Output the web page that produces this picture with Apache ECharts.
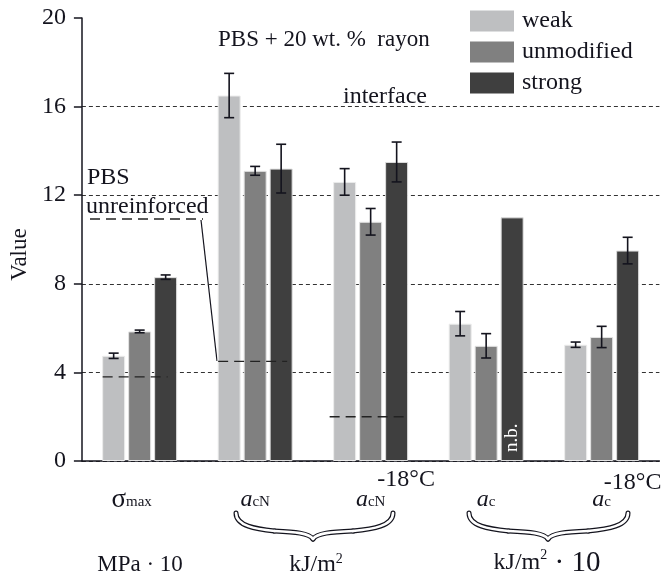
<!DOCTYPE html>
<html>
<head>
<meta charset="utf-8">
<script src="https://cdn.jsdelivr.net/npm/echarts@6/dist/echarts.min.js"></script>
<style>
    html, body { margin: 0; padding: 0; background: #fff; }
    #main { width: 664px; height: 577px; }
</style>
</head>
<body>
<div id="main"></div>
<script>
// categories on the x axis
var symbols = ['σ', 'a', 'a', 'a', 'a'];
var subs = ['max', 'cN', 'cN', 'c', 'c'];
var temps = ['', '', '-18°C', '', '-18°C'];
var categories = ['σmax', 'acN', 'acN -18°C', 'ac', 'ac -18°C'];

// bar values
var weak = [4.75, 16.5, 12.6, 6.2, 5.25];
var unmodified = [5.85, 13.1, 10.8, 5.2, 5.6];
var strong = [8.3, 13.2, 13.5, 11.0, 9.5];

// error (+/-)
var weakErr = [0.12, 1.0, 0.6, 0.55, 0.12];
var unmodErr = [0.06, 0.2, 0.6, 0.55, 0.48];
var strongErr = [0.1, 1.1, 0.9, null, 0.6];
var notDetermined = [false, false, false, true, false];

// PBS unreinforced level
var pbsRef = [3.8, 4.5, 2.0, null, null];

var yTicks = [0, 4, 8, 12, 16, 20];

var FONT = "'Liberation Serif', 'Times New Roman', serif";
var INK = '#14141e';
var BAR_W = 23;
var BAR_SPACE = 3;
var REF_SPAN = [[-37, 28], [-37, 32], [-41, 39]];

var errData = [];
[weakErr, unmodErr, strongErr].forEach(function (errs, s) {
    var vals = [weak, unmodified, strong][s];
    errs.forEach(function (e, i) {
        if (e != null) {
            errData.push([i, vals[i] - e, vals[i] + e, s]);
        }
    });
});

var refData = [];
pbsRef.forEach(function (v, i) {
    if (v != null) refData.push([i, v]);
});

function renderErr(params, api) {
    var xi = api.value(0);
    var lo = api.coord([xi, api.value(1)]);
    var hi = api.coord([xi, api.value(2)]);
    var x = lo[0] + (api.value(3) - 1) * (BAR_W + BAR_SPACE);
    var st = { stroke: INK, lineWidth: 1.6 };
    return {
        type: 'group',
        children: [
            { type: 'line', shape: { x1: x, y1: lo[1], x2: x, y2: hi[1] }, style: st },
            { type: 'line', shape: { x1: x - 5, y1: lo[1], x2: x + 5, y2: lo[1] }, style: st },
            { type: 'line', shape: { x1: x - 5, y1: hi[1], x2: x + 5, y2: hi[1] }, style: st }
        ]
    };
}

function renderRef(params, api) {
    var xi = api.value(0);
    var p = api.coord([xi, api.value(1)]);
    var span = REF_SPAN[xi];
    return {
        type: 'line',
        shape: { x1: p[0] + span[0], y1: p[1], x2: p[0] + span[1], y2: p[1] },
        style: { stroke: '#222', lineWidth: 1.4, lineDash: [10, 6] }
    };
}

function xLabel(v, i) {
    var line1 = temps[i] ? '{t' + i + '|' + temps[i] + '}' : '{e| }';
    if (symbols[i] === 'a') {
        return line1 + '\n{a|a}{sub|' + subs[i] + '}';
    }
    return line1 + '\n{s|' + symbols[i] + '}{sm|' + subs[i] + '}';
}

// curly brace as four cubic segments
function braceSegs(x0, xm, x1, y0) {
    var ml = (x0 + xm) / 2, mr = (xm + x1) / 2;
    return [
        [x0, y0, x0, y0 + 13, x0 + 20, y0 + 16, ml, y0 + 18],
        [ml, y0 + 18, xm - 18, y0 + 19, xm - 4, y0 + 20, xm, y0 + 26],
        [xm, y0 + 26, xm + 4, y0 + 20, xm + 18, y0 + 19, mr, y0 + 18],
        [mr, y0 + 18, x1 - 20, y0 + 16, x1, y0 + 13, x1, y0]
    ];
}

var braces = [[236, 313, 393], [469, 548, 628]];
var braceEls = [];
[[INK, 5], ['#fff', 2.6]].forEach(function (pen) {
    braces.forEach(function (b) {
        braceSegs(b[0], b[1], b[2], 513).forEach(function (s) {
            braceEls.push({
                type: 'bezierCurve',
                shape: { x1: s[0], y1: s[1], cpx1: s[2], cpy1: s[3], cpx2: s[4], cpy2: s[5], x2: s[6], y2: s[7] },
                style: { fill: null, stroke: pen[0], lineWidth: pen[1], lineCap: 'round' }
            });
        });
    });
});

function txt(text, x, y, size, extra) {
    var el = {
        type: 'text', x: x, y: y,
        style: { text: text, fontSize: size, fontFamily: FONT, fill: INK, verticalAlign: 'middle' }
    };
    if (extra) {
        for (var k in extra) el.style[k] = extra[k];
    }
    return el;
}

var chart = echarts.init(document.getElementById('main'));

var option = {
    animation: false,
    textStyle: { fontFamily: FONT, color: INK },
    title: {
        text: 'PBS + 20 wt. %  rayon',
        left: 218, top: 28, padding: 0,
        textStyle: { fontFamily: FONT, fontSize: 23, fontWeight: 'normal', color: INK }
    },
    legend: {
        orient: 'vertical',
        left: 470, top: 9, padding: 0,
        itemWidth: 44, itemHeight: 21, itemGap: 7,
        icon: 'rect',
        itemStyle: { borderWidth: 0 },
        textStyle: { fontFamily: FONT, fontSize: 24, color: INK, padding: [0, 0, 0, 3] },
        data: ['weak', 'unmodified', 'strong']
    },
    grid: { left: 80, right: 2, top: 18, bottom: 116 },
    xAxis: {
        type: 'category',
        data: categories,
        axisLine: { lineStyle: { color: INK, width: 1.5 } },
        axisTick: { alignWithLabel: true, length: 7, lineStyle: { color: INK, width: 1.5 } },
        axisLabel: {
            interval: 0, margin: 9, color: INK,
            formatter: xLabel,
            rich: {
                t2: { fontFamily: FONT, fontSize: 24, color: INK, lineHeight: 20, align: 'right', padding: [0, 0, 0, 71] },
                t4: { fontFamily: FONT, fontSize: 24, color: INK, lineHeight: 20, align: 'right', padding: [6, 0, 0, 62] },
                e: { fontSize: 10, lineHeight: 20 },
                s: { fontFamily: FONT, fontSize: 27, color: INK, lineHeight: 20, align: 'center' },
                sm: { fontFamily: FONT, fontSize: 15, color: INK, lineHeight: 20, align: 'center', verticalAlign: 'bottom', padding: [10, 16, 0, 0] },
                a: { fontFamily: FONT, fontSize: 24, fontStyle: 'italic', color: INK, lineHeight: 20, align: 'center' },
                sub: { fontFamily: FONT, fontSize: 15, color: INK, lineHeight: 20, align: 'center', verticalAlign: 'bottom', padding: [10, 0, 0, 0] }
            }
        }
    },
    yAxis: {
        type: 'value',
        min: yTicks[0], max: yTicks[yTicks.length - 1], interval: 4,
        name: 'Value',
        nameLocation: 'middle',
        nameGap: 48,
        nameRotate: 90,
        nameTextStyle: { fontFamily: FONT, fontSize: 23, color: INK, padding: [0, 30, 0, 0] },
        axisLine: { show: true, lineStyle: { color: INK, width: 1.5 } },
        axisTick: { show: true, length: 8, lineStyle: { color: INK, width: 1.5 } },
        axisLabel: { fontFamily: FONT, fontSize: 24, color: INK, margin: 16 },
        splitLine: { show: true, showMaxLine: false, lineStyle: { color: '#333', width: 1, type: [4, 3] } }
    },
    series: [{
        name: 'weak', type: 'bar', data: weak,
        barWidth: BAR_W, barGap: '13%',
        itemStyle: { color: '#bebfc1', borderColor: '#ececec', borderWidth: 1 }
    }, {
        name: 'unmodified', type: 'bar', data: unmodified,
        barWidth: BAR_W, barGap: '13%',
        itemStyle: { color: '#808080', borderColor: '#e4e4e4', borderWidth: 1 }
    }, {
        name: 'strong', type: 'bar',
        data: strong.map(function (v, i) {
            if (!notDetermined[i]) return v;
            return {
                value: v,
                label: {
                    show: true, formatter: 'n.b.', position: 'insideBottom', rotate: 90,
                    align: 'left', verticalAlign: 'middle', distance: 9,
                    color: '#fff', fontFamily: FONT, fontSize: 19
                }
            };
        }),
        barWidth: BAR_W, barGap: '13%',
        itemStyle: { color: '#3f3f3f', borderColor: '#dedede', borderWidth: 1 }
    }, {
        type: 'custom', name: 'err', data: errData, renderItem: renderErr,
        encode: { x: 0, y: [1, 2] }, z: 5, silent: true
    }, {
        type: 'custom', name: 'PBS unreinforced', data: refData, renderItem: renderRef,
        encode: { x: 0, y: 1 }, z: 5, silent: true
    }],
    graphic: [
        txt('interface', 343, 97, 24),
        txt('PBS', 87, 178, 24),
        txt('unreinforced', 86, 207, 24),
        { type: 'line', shape: { x1: 90, y1: 219, x2: 203, y2: 219 }, style: { stroke: '#222', lineWidth: 1.4, lineDash: [10, 6] } },
        { type: 'line', shape: { x1: 201, y1: 220, x2: 217, y2: 361 }, style: { stroke: INK, lineWidth: 1.2 } },
        txt('MPa · 10', 140, 565, 23, { align: 'center' }),
        {
            type: 'text', x: 316, y: 565,
            style: {
                text: 'kJ/m{sup|2}', fontSize: 24, fontFamily: FONT, fill: INK,
                align: 'center', verticalAlign: 'middle',
                rich: { sup: { fontSize: 14, fontFamily: FONT, fill: INK, verticalAlign: 'top', padding: [0, 0, 12, 0] } }
            }
        },
        {
            type: 'text', x: 547, y: 563,
            style: {
                text: 'kJ/m{sup|2}{big| · 10}', fontSize: 24, fontFamily: FONT, fill: INK,
                align: 'center', verticalAlign: 'middle',
                rich: {
                    sup: { fontSize: 14, fontFamily: FONT, fill: INK, verticalAlign: 'top', padding: [0, 0, 12, 0] },
                    big: { fontSize: 29, fontFamily: FONT, fill: INK }
                }
            }
        }
    ].concat(braceEls)
};

chart.setOption(option);
</script>
</body>
</html>
